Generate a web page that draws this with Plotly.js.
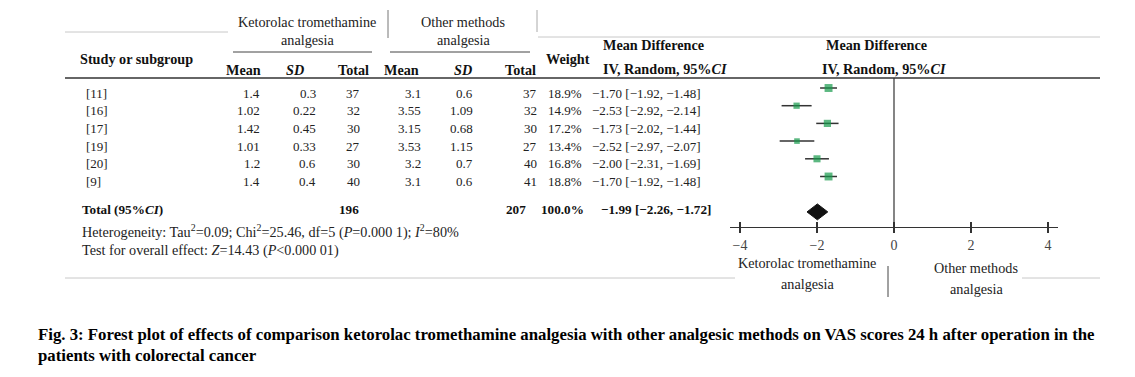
<!DOCTYPE html>
<html>
<head>
<meta charset="utf-8">
<script src="https://cdn.plot.ly/plotly-3.0.1.min.js"></script>
<style>html,body{margin:0;padding:0;background:#fff;}#chart{width:1135px;height:377px;}</style>
</head>
<body>
<div id="chart"></div>
<script>
// ---- data ----
const studies   = ['[11]','[16]','[17]','[19]','[20]','[9]'];
const ktMean    = [1.4, 1.02, 1.42, 1.01, 1.2, 1.4];
const ktSD      = [0.3, 0.22, 0.45, 0.33, 0.6, 0.4];
const ktTotal   = [37, 32, 30, 27, 30, 40];
const omMean    = [3.1, 3.55, 3.15, 3.53, 3.2, 3.1];
const omSD      = [0.6, 1.09, 0.68, 1.15, 0.7, 0.6];
const omTotal   = [37, 32, 30, 27, 40, 41];
const weights   = [18.9, 14.9, 17.2, 13.4, 16.8, 18.8];
const md        = [-1.70, -2.53, -1.73, -2.52, -2.00, -1.70];
const ciLow     = [-1.92, -2.92, -2.02, -2.97, -2.31, -1.92];
const ciHigh    = [-1.48, -2.14, -1.44, -2.07, -1.69, -1.48];
const totalKt   = 196;
const totalOm   = 207;
const totalW    = 100.0;
const totalMD   = -1.99;
const totalLow  = -2.26;
const totalHigh = -1.72;
const xTicks    = [-4, -2, 0, 2, 4];

// ---- layout helpers ----
const W = 1135, H = 377;
const px = x => x / W;
const py = y => 1 - y / H;
const FONT = 'Liberation Serif, Times New Roman, serif';
const FS = 14.2;   // headers / notes
const RS = 13;     // table rows
const TXT = '#222';
const rowY = studies.map((_, i) => i + 1);
const totalY = 8;
const minus = v => (v < 0 ? '\u2212' : '') + Math.abs(v).toFixed(2);
const ciText = (m, l, h) => minus(m) + ' [' + minus(l) + ', ' + minus(h) + ']';

const ann = [];
function A(text, x, y, opts) {
  ann.push(Object.assign({
    text: text, xref: 'paper', yref: 'paper', x: px(x), y: py(y),
    xanchor: 'left', yanchor: 'middle', showarrow: false,
    font: {family: FONT, size: FS, color: TXT}
  }, opts || {}));
}
function R(text, x, yval, opts) {
  ann.push(Object.assign({
    text: text, xref: 'paper', yref: 'y', x: px(x), y: yval, yshift: -5,
    xanchor: 'right', yanchor: 'middle', showarrow: false,
    font: {family: FONT, size: RS, color: TXT}
  }, opts || {}));
}

// headers
A('Ketorolac tromethamine', 307, 22, {xanchor: 'center'});
A('analgesia', 307, 40, {xanchor: 'center'});
A('Other methods', 463, 22, {xanchor: 'center'});
A('analgesia', 463, 40, {xanchor: 'center'});
const hb = {family: FONT, size: FS, color: '#111'};
A('<b>Study or subgroup</b>', 78, 59, {font: hb});
A('<b>Mean</b>', 263, 70, {xanchor: 'right', font: hb});
A('<b><i>SD</i></b>', 306, 70, {xanchor: 'right', font: hb});
A('<b>Total</b>', 371, 70, {xanchor: 'right', font: hb});
A('<b>Mean</b>', 421, 70, {xanchor: 'right', font: hb});
A('<b><i>SD</i></b>', 474, 70, {xanchor: 'right', font: hb});
A('<b>Total</b>', 538, 70, {xanchor: 'right', font: hb});
A('<b>Weight</b>', 544, 59, {font: hb});
A('<b>Mean Difference</b>', 601, 45, {font: hb});
A('<b>IV, Random, 95%<i>CI</i></b>', 601, 69, {font: hb});
A('<b>Mean Difference</b>', 876, 45, {xanchor: 'center', font: hb});
A('<b>IV, Random, 95%<i>CI</i></b>', 884, 69, {xanchor: 'center', font: hb});

// rows
studies.forEach((s, i) => {
  const y = rowY[i];
  R(s, 84, y, {xanchor: 'left'});
  R(String(ktMean[i]), 262, y);
  R(String(ktSD[i]), 318, y);
  R(String(ktTotal[i]), 362, y);
  R(String(omMean[i]), 423, y);
  R(String(omSD[i]), 475, y);
  R(String(omTotal[i]), 539, y);
  R(weights[i].toFixed(1) + '%', 584, y);
  R(ciText(md[i], ciLow[i], ciHigh[i]), 703, y);
});
// total row
const tb = {family: FONT, size: 13.2, color: '#111'};
R('<b>Total (95%<i>CI</i>)</b>', 80, totalY, {xanchor: 'left', font: tb, yshift: 2});
R('<b>' + totalKt + '</b>', 361, totalY, {font: tb, yshift: 2});
R('<b>' + totalOm + '</b>', 528, totalY, {font: tb, yshift: 2});
R('<b>' + totalW.toFixed(1) + '%</b>', 586, totalY, {font: tb, yshift: 2});
R('<b>' + ciText(totalMD, totalLow, totalHigh) + '</b>', 713, totalY, {font: tb, yshift: 2});

A('Heterogeneity: Tau<sup>2</sup>=0.09; Chi<sup>2</sup>=25.46, df=5 (<i>P</i>=0.000 1); <i>I</i><sup>2</sup>=80%', 80, 231);
A('Test for overall effect: <i>Z</i>=14.43 (<i>P</i>&lt;0.000 01)', 80, 251);

// bottom favour labels
A('Ketorolac tromethamine', 807, 263, {xanchor: 'center'});
A('analgesia', 807, 284, {xanchor: 'center'});
A('Other methods', 976, 268, {xanchor: 'center'});
A('analgesia', 976, 289, {xanchor: 'center'});

// caption
const cf = {family: FONT, size: 16.8, color: '#000'};
A('<b>Fig. 3: Forest plot of effects of comparison ketorolac tromethamine analgesia with other analgesic methods on VAS scores 24 h after operation in the</b>', 36, 334, {font: cf});
A('<b>patients with colorectal cancer</b>', 36, 355, {font: cf});

// lines (layout decoration)
function L(x0, y0, x1, y1, color, w) {
  return {type: 'line', xref: 'paper', yref: 'paper', x0: px(x0), y0: py(y0), x1: px(x1), y1: py(y1),
          line: {color: color, width: w}};
}
const shapes = [
  L(65, 32, 228, 32, '#c8c8c8', 1),
  L(538, 37, 1100, 37, '#c8c8c8', 1),
  L(388, 10, 388, 38, '#777', 1),
  L(537, 10, 537, 32, '#aaa', 1),
  L(233, 52, 372, 52, '#444', 1),
  L(390, 52, 530, 52, '#444', 1),
  L(65, 78, 1100, 78, '#333', 1.5),
  L(65, 278, 735, 278, '#c8c8c8', 1),
  L(1022, 278, 1100, 278, '#c8c8c8', 1),
  L(888, 266, 888, 297, '#444', 1),
  {type: 'line', xref: 'x', yref: 'paper', x0: 0, x1: 0, y0: py(227), y1: py(78), line: {color: '#333', width: 1.2}}
];

// ---- traces ----
const studyTrace = {
  type: 'scatter', mode: 'markers', x: md, y: rowY,
  marker: {symbol: 'square', color: '#179a4c', size: weights.map(w => w * 0.42), line: {width: 0}},
  error_x: {type: 'data', symmetric: false,
            array: md.map((m, i) => ciHigh[i] - m),
            arrayminus: md.map((m, i) => m - ciLow[i]),
            color: '#333', thickness: 1.5, width: 0},
  hoverinfo: 'skip', showlegend: false
};
const dh = 0.45;
const diamond = {
  type: 'scatter', mode: 'lines', fill: 'toself', fillcolor: '#111',
  x: [totalLow, totalMD, totalHigh, totalMD, totalLow],
  y: [totalY, totalY - dh, totalY, totalY + dh, totalY],
  line: {color: '#111', width: 1}, hoverinfo: 'skip', showlegend: false
};
const tickTrace = {type: 'scatter', mode: 'markers', x: [0], y: [totalY], xaxis: 'x2', yaxis: 'y',
  marker: {opacity: 0}, hoverinfo: 'skip', showlegend: false};

const xDom = [px(730), px(1058)];
const layout = {
  width: W, height: H, margin: {l: 0, r: 0, t: 0, b: 0},
  paper_bgcolor: '#fff', plot_bgcolor: 'rgba(0,0,0,0)',
  showlegend: false,
  xaxis: {domain: xDom, range: [-4.26, 4.26], anchor: 'y', showline: true, linecolor: '#333', linewidth: 1.2,
          ticks: 'outside', ticklen: 5, tickwidth: 1.2, tickcolor: '#333', tickvals: xTicks,
          showgrid: false, zeroline: false, fixedrange: true,
          tickfont: {family: FONT, size: 14, color: '#444'}},
  xaxis2: {overlaying: 'x', anchor: 'y', range: [-4.26, 4.26], side: 'bottom', showline: false,
           ticks: 'inside', ticklen: 5, tickwidth: 1.2, tickcolor: '#333', tickvals: xTicks,
           showticklabels: false, showgrid: false, zeroline: false, fixedrange: true},
  yaxis: {domain: [py(227), py(80)], range: [8.853, 0.548], visible: false, fixedrange: true},
  shapes: shapes,
  annotations: ann
};
Plotly.newPlot('chart', [studyTrace, diamond, tickTrace], layout, {staticPlot: true, displayModeBar: false});
</script>
</body>
</html>
